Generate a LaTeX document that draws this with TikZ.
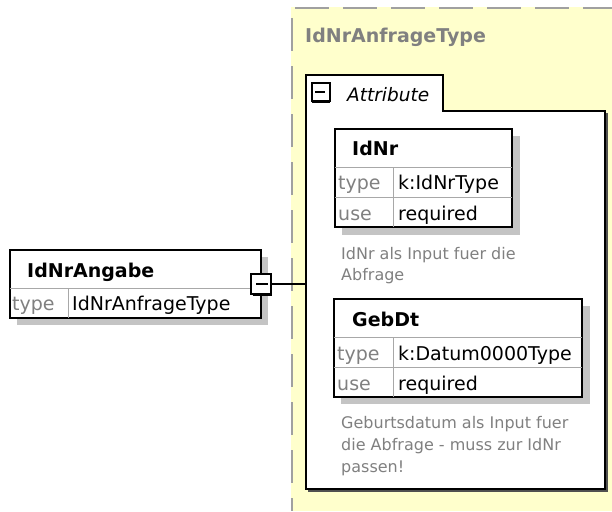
\documentclass[tikz,border=0pt]{standalone}
\usepackage{fontspec}
\setmainfont{DejaVu Sans}

\definecolor{paleyellow}{RGB}{255,255,204}
\definecolor{dashgray}{RGB}{160,160,160}
\definecolor{labelgray}{RGB}{128,128,128}
\definecolor{rulegray}{RGB}{168,168,168}
\definecolor{shadowgray}{RGB}{196,196,196}
\definecolor{frameshadow}{RGB}{80,80,80}

\tikzset{
  tablebox/.style={draw=black, line width=1.2pt, fill=white, anchor=north west,
                   inner sep=0pt, outer sep=0pt},
  cell/.style={anchor=base west, inner sep=0pt, font=\fontsize{19}{22}\selectfont},
  keycell/.style={cell, text=labelgray},
  headcell/.style={anchor=base west, inner sep=0pt, font=\fontsize{19}{22}\selectfont\bfseries},
  noteline/.style={anchor=base west, inner sep=0pt, font=\fontsize{16}{22}\selectfont, text=labelgray},
  divider/.style={draw=rulegray, line width=1pt},
  toggle/.style={draw=black, line width=2pt, fill=white, anchor=center,
                 minimum width=20pt, minimum height=20pt, inner sep=0pt, outer sep=0pt}
}

\begin{document}
\begin{tikzpicture}[x=1pt, y=-1pt]
\useasboundingbox (0,0) rectangle (612,511);

% complex type area: pale yellow with dashed top and left edges
\fill[paleyellow] (291,7) rectangle (612,511);
\draw[dashgray, line width=2pt, dash pattern=on 34pt off 14pt] (295,8) -- (612,8);
\draw[dashgray, line width=2pt, dash pattern=on 33pt off 15pt] (292,18) -- (292,511);
\node[headcell, text=labelgray] (typename) at (305,43) {IdNrAnfrageType};

% attribute group frame and its tab
\fill[frameshadow] (308,113) rectangle (607.5,491.5);
\node[tablebox, minimum width=299pt, minimum height=378pt] (frame) at (306,111) {};
\fill[white] (306,75) rectangle (443,111.8);
\draw[black, line width=1.2pt] (306,111.8) -- (306,75) -- (443,75) -- (443,111.8);
\node[draw=black, line width=1.6pt, fill=white, anchor=center, minimum width=18pt,
      minimum height=18pt, inner sep=0pt] (tabicon) at (321,92) {};
\draw[black, line width=1pt] (tabicon.south west) ++(1,1) -- ++(17,0) -- ++(0,-17);
\draw[black, line width=1.6pt] (tabicon.west) ++(4,0) -- ++(10,0);
\node[cell, font=\fontsize{18.5}{22}\selectfont\itshape] (tabtitle) at (347,101) {Attribute};

% element IdNrAngabe
\fill[shadowgray] (17,257) rectangle (268,325);
\node[tablebox, minimum width=251pt, minimum height=68pt] (angabe) at (10,250) {};
\draw[divider] (10,288) -- (261,288);
\draw[divider] (68,288) -- (68,318);
\node[headcell] (angabename) at (27,277) {IdNrAngabe};
\node[keycell] (angabekey) at (12,310) {type};
\node[cell] (angabeval) at (72,310) {IdNrAnfrageType};

% collapse toggle and connector to the attribute group
\node[toggle] (conn) at (261,284) {};
\draw[black, line width=1pt] (conn.south west) ++(1.5,1.5) -- ++(19,0) -- ++(0,-19);
\draw[black, line width=1.4pt] (conn.west) ++(5,0) -- ++(12,0);
\draw[black, line width=1.2pt] (conn.east) -- (conn.east -| frame.west);

% attribute IdNr
\fill[shadowgray] (342,136) rectangle (520,235);
\node[tablebox, minimum width=177pt, minimum height=98pt] (idnr) at (335,129) {};
\draw[divider] (335,167) -- (512,167);
\draw[divider] (335,197) -- (512,197);
\draw[divider] (393,167) -- (393,227);
\node[headcell] (idnrname) at (352,155) {IdNr};
\node[keycell] (idnrtypekey) at (338,189) {type};
\node[cell] (idnrtypeval) at (398,189) {k:IdNrType};
\node[keycell] (idnrusekey) at (338,220) {use};
\node[cell] (idnruseval) at (398,220) {required};
\node[noteline] (idnrnote1) at (341,259) {IdNr als Input fuer die};
\node[noteline] (idnrnote2) at (341,280) {Abfrage};

% attribute GebDt
\fill[shadowgray] (341,306) rectangle (590,404);
\node[tablebox, minimum width=248pt, minimum height=98pt] (gebdt) at (334,299) {};
\draw[divider] (334,337) -- (582,337);
\draw[divider] (334,367) -- (582,367);
\draw[divider] (393,337) -- (393,397);
\node[headcell] (gebdtname) at (352,326) {GebDt};
\node[keycell] (gebdttypekey) at (337,360) {type};
\node[cell] (gebdttypeval) at (398,360) {k:Datum0000Type};
\node[keycell] (gebdtusekey) at (337,390) {use};
\node[cell] (gebdtuseval) at (398,390) {required};
\node[noteline] (gebdtnote1) at (341,428) {Geburtsdatum als Input fuer};
\node[noteline] (gebdtnote2) at (341,450) {die Abfrage - muss zur IdNr};
\node[noteline] (gebdtnote3) at (341,472) {passen!};
\end{tikzpicture}
\end{document}
